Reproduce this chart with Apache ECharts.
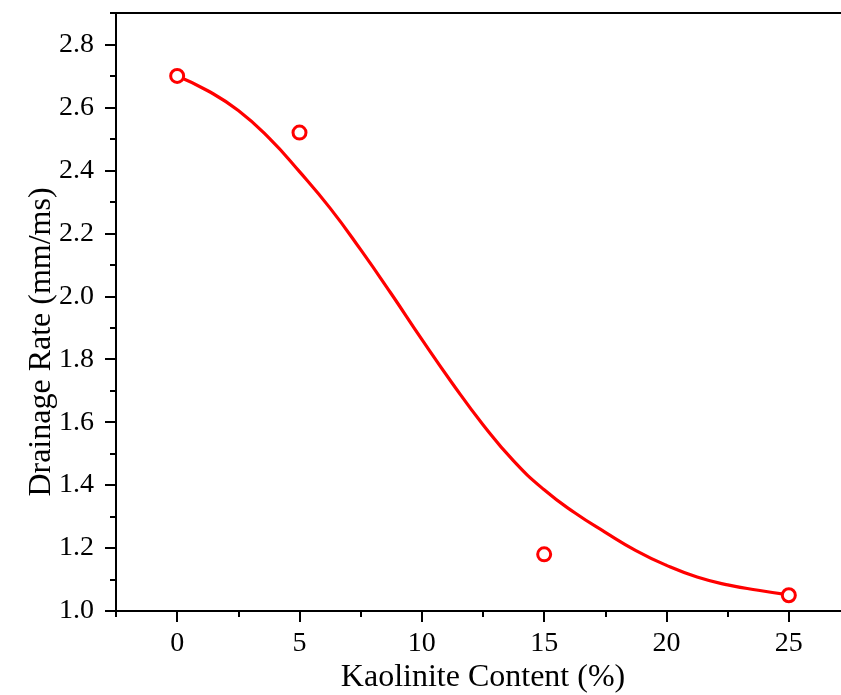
<!DOCTYPE html>
<html>
<head>
<meta charset="utf-8">
<script src="https://cdn.jsdelivr.net/npm/echarts@6/dist/echarts.min.js"></script>
<style>
  html, body { margin: 0; padding: 0; background: #fff; }
  #chart { width: 841px; height: 695px; }
</style>
</head>
<body>
<div id="chart"></div>
<script>
// measured points
const kaoliniteContent = [0, 5, 15, 25]
const drainageRate = [2.70, 2.52, 1.18, 1.05]

// fitted curve, every 1.25 %
const curveX = [0, 1.25, 2.5, 3.75, 5, 6.25, 7.5, 8.75, 10, 11.25, 12.5, 13.75, 15, 16.25, 17.5, 18.75, 20, 21.25, 22.5, 23.75, 25]
const curveY = [2.700, 2.653, 2.590, 2.503, 2.396, 2.280, 2.148, 2.008, 1.863, 1.723, 1.592, 1.477, 1.385, 1.312, 1.250, 1.192, 1.145, 1.108, 1.083, 1.066, 1.051]

// axis ticks
const xMajorTicks = [0, 5, 10, 15, 20, 25]
const yMajorTicks = [1.0, 1.2, 1.4, 1.6, 1.8, 2.0, 2.2, 2.4, 2.6, 2.8]

const FONT = '"Liberation Serif", "Times New Roman", serif'
const RED = '#ff0000'

let myChart = echarts.init(document.getElementById('chart'), null, { renderer: 'canvas' })

const scatterData = kaoliniteContent.map((x, i) => [x, drainageRate[i]])
const curveData = curveX.map((x, i) => [x, curveY[i]])

const lineStyleBlack = { color: '#000', width: 2 }

var option = {
  backgroundColor: '#fff',
  animation: false,
  grid: { left: 116, right: -9, top: 13, bottom: 84, outerBoundsMode: 'none', containLabel: false },
  xAxis: [
    {
      type: 'value',
      min: -2.5,
      max: 27.5,
      position: 'bottom',
      axisLine: { onZero: false, lineStyle: lineStyleBlack },
      axisTick: { customValues: xMajorTicks, length: 11, lineStyle: lineStyleBlack },
      axisLabel: {
        customValues: xMajorTicks,
        margin: 19,
        color: '#000',
        fontFamily: FONT,
        fontSize: 28
      },
      splitLine: { show: false },
      name: 'Kaolinite Content (%)',
      nameLocation: 'middle',
      nameGap: 51,
      nameMoveOverlap: false,
      nameTextStyle: { color: '#000', fontFamily: FONT, fontSize: 32 }
    },
    {
      // minor ticks
      type: 'value',
      min: -2.5,
      max: 27.5,
      interval: 2.5,
      position: 'bottom',
      axisLine: { show: false, onZero: false },
      axisTick: { length: 6, lineStyle: lineStyleBlack },
      axisLabel: { show: false },
      splitLine: { show: false }
    },
    {
      // top frame
      type: 'value',
      min: -2.5,
      max: 27.5,
      position: 'top',
      axisLine: { onZero: false, lineStyle: lineStyleBlack },
      axisTick: { show: false },
      axisLabel: { show: false },
      splitLine: { show: false }
    }
  ],
  yAxis: [
    {
      type: 'value',
      min: 1.0,
      max: 2.9,
      position: 'left',
      axisLine: { onZero: false, lineStyle: lineStyleBlack },
      axisTick: { customValues: yMajorTicks, length: 11, lineStyle: lineStyleBlack },
      axisLabel: {
        customValues: yMajorTicks,
        margin: 22,
        color: '#000',
        fontFamily: FONT,
        fontSize: 28,
        formatter: v => v.toFixed(1)
      },
      splitLine: { show: false },
      name: 'Drainage Rate (mm/ms)',
      nameLocation: 'middle',
      nameGap: 58,
      nameMoveOverlap: false,
      nameTextStyle: { color: '#000', fontFamily: FONT, fontSize: 32, padding: [0, 60, 0, 0] }
    },
    {
      // minor ticks
      type: 'value',
      min: 1.0,
      max: 2.9,
      interval: 0.1,
      position: 'left',
      axisLine: { show: false, onZero: false },
      axisTick: { length: 6, lineStyle: lineStyleBlack },
      axisLabel: { show: false },
      splitLine: { show: false }
    }
  ],
  series: [
    {
      name: 'fit',
      type: 'line',
      data: curveData,
      smooth: 0.5,
      showSymbol: false,
      lineStyle: { color: RED, width: 3.2 },
      z: 2
    },
    {
      name: 'measured',
      type: 'scatter',
      data: scatterData,
      symbol: 'circle',
      symbolSize: 13,
      itemStyle: { color: '#fff', borderColor: RED, borderWidth: 3, opacity: 1 },
      z: 3
    }
  ]
}

myChart.setOption(option)
</script>
</body>
</html>
